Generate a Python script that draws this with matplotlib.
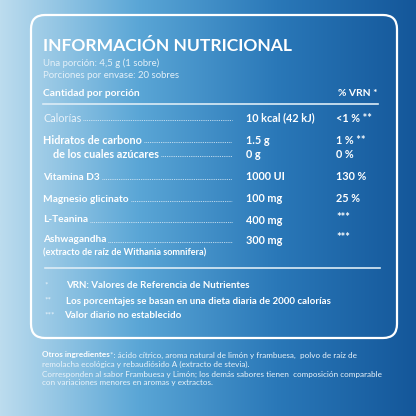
import numpy as np
import matplotlib.pyplot as plt
from matplotlib.colors import LinearSegmentedColormap
from matplotlib.patches import FancyBboxPatch

plt.rcParams['font.family'] = ['Lato', 'DejaVu Sans']

# nutrient rows
nutrients = ["Calorías", "Hidratos de carbono", "de los cuales azúcares", "Vitamina D3",
             "Magnesio glicinato", "L-Teanina", "Ashwagandha"]
amounts = ["10 kcal (42 kJ)", "1.5 g", "0 g", "1000 UI", "100 mg", "400 mg", "300 mg"]
vrn = ["<1 % **", "1 % **", "0 %", "130 %", "25 %", "***", "***"]
row_y = [118, 140, 154, 177, 199, 220, 240]
footnote_marks = ["*", "**", "***"]
footnotes = ["VRN: Valores de Referencia de Nutrientes",
             "Los porcentajes se basan en una dieta diaria de 2000 calorías",
             "Valor diario no establecido"]

fig = plt.figure(figsize=(4.16, 4.16), dpi=100)
ax = fig.add_axes([0, 0, 1, 1])
ax.set_xlim(0, 416)
ax.set_ylim(416, 0)
ax.axis('off')

cmap = LinearSegmentedColormap.from_list('bg', ['#bcdcee', '#5aa6d6', '#2a78b8', '#14579a'])
grad = np.linspace(0, 1, 256).reshape(1, -1)
ax.imshow(grad, cmap=cmap, extent=[0, 416, 416, 0], aspect='auto', zorder=0)

box = FancyBboxPatch((31, 15), 366, 323, boxstyle="round,pad=0,rounding_size=14",
                     fill=False, ec='white', lw=1.6, zorder=2)
ax.add_patch(box)

W = 'white'
ax.text(43, 46, "INFORMACIÓN NUTRICIONAL", color=W, fontsize=12.6, fontweight='bold', va='center')
ax.text(43, 63, "Una porción: 4,5 g (1 sobre)", color='#e4f0f8', fontsize=6.9, va='center')
ax.text(43, 76, "Porciones por envase: 20 sobres", color='#e4f0f8', fontsize=6.9, va='center')
ax.text(43, 94, "Cantidad por porción", color=W, fontsize=7.4, fontweight='bold', va='center')
ax.text(377, 94, "% VRN *", color=W, fontsize=7.4, fontweight='bold', va='center', ha='right')
ax.plot([43, 378], [104, 104], color='#dcecf6', lw=1.2)
ax.plot([45, 380], [268, 268], color='#dcecf6', lw=1.2)

fig.canvas.draw()
r = fig.canvas.get_renderer()
inv = ax.transData.inverted()
for i, name in enumerate(nutrients):
    x0 = 53 if i == 2 else 43
    light = i == 0
    fs = 7.8 if i in (0, 1, 2) else 7.3
    t = ax.text(x0, row_y[i], name, color=W if not light else '#e8f2fa', fontsize=fs,
                fontweight='normal' if light else 'bold', va='center')
    bb = t.get_window_extent(r)
    xe = inv.transform((bb.x1, bb.y0))[0]
    ax.plot([xe + 2, 232], [row_y[i] + 2, row_y[i] + 2], color='#e8f2fa', lw=0.6, ls=(0, (1, 1.2)))
    ax.text(246, row_y[i], amounts[i], color=W, fontsize=7.8, fontweight='bold', va='center')
    ax.text(336, row_y[i] - (2 if i > 4 else 0), vrn[i], color=W, fontsize=7.8,
            fontweight='bold', va='center')
ax.text(43, 253, "(extracto de raíz de Withania somnifera)", color=W, fontsize=6.6, fontweight='bold', va='center')

for i, (m, f) in enumerate(zip(footnote_marks, footnotes)):
    y = 286 + 15 * i
    ax.text(44, y - 1, m, color='#e8f2fa', fontsize=6, va='center')
    ax.text(66 if i < 2 else 64, y, f, color=W, fontsize=7, fontweight='bold', va='center')

t = ax.text(42, 355, "Otros ingredientes", color=W, fontsize=5.9, fontweight='bold', va='center')
bb = t.get_window_extent(r)
xe = inv.transform((bb.x1, bb.y0))[0]
ax.text(xe, 355, "*: ácido cítrico, aroma natural de limón y frambuesa,  polvo de raíz de",
        color='#eaf3fa', fontsize=5.9, va='center')
ax.text(42, 364, "remolacha ecológica y rebaudiósido A (extracto de stevia).", color='#eaf3fa', fontsize=5.9, va='center')
ax.text(42, 374, "Corresponden al sabor Frambuesa y Limón; los demás sabores tienen  composición comparable",
        color='#eaf3fa', fontsize=5.9, va='center')
ax.text(42, 383, "con variaciones menores en aromas y extractos.", color='#eaf3fa', fontsize=5.9, va='center')

fig.savefig('out.png', dpi=100)
